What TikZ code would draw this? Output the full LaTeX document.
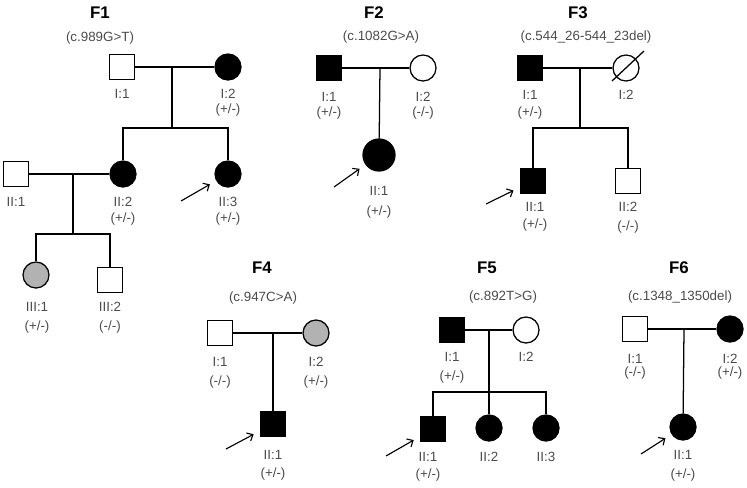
\documentclass[tikz,border=0pt]{standalone}
\usepackage{fontspec}
\setmainfont{Liberation Sans}
\usepackage{tikz}
\usetikzlibrary{arrows.meta}

\definecolor{labelgray}{RGB}{75,75,75}
\definecolor{cargray}{RGB}{178,178,178}

\tikzset{
  male/.style={draw, rectangle, minimum size=0.62cm, inner sep=0pt, fill=white},
  female/.style={draw, circle, minimum size=0.65cm, inner sep=0pt, fill=white},
  aff/.style={fill=black},
  car/.style={fill=cargray},
  famtitle/.style={font=\bfseries\fontsize{12}{14}\selectfont},
  mut/.style={text=labelgray, font=\fontsize{9.5}{11}\selectfont},
  lab/.style={text=labelgray, font=\fontsize{9.5}{11}\selectfont, inner sep=1pt},
  proband/.style={-{Straight Barb[length=3.5pt, width=6.5pt]}, line width=0.8pt, shorten >=0.18cm}
}

\begin{document}
\begin{tikzpicture}[x=0.025cm, y=-0.025cm, line width=0.9pt]
    \useasboundingbox (0,0) rectangle (747,487);

    % Family F1
    \node[famtitle] (f1t) at (100,13) {F1};
    \node[mut] (f1v) at (100,38) {(c.989G>T)};
    \node[male] (f1a) at (122,67) {};
    \node[female, aff] (f1b) at (228,67) {};
    \node[female, aff] (f1c) at (123,174) {};
    \node[female, aff] (f1d) at (228,174) {};
    \node[male] (f1e) at (16,174) {};
    \node[female, car] (f1f) at (36,275) {};
    \node[male] (f1g) at (110,280) {};
    \coordinate (f1m) at (172,67);
    \coordinate (f1s) at (172,128);
    \coordinate (f1n) at (73,174);
    \coordinate (f1u) at (73,234);
    \coordinate (f1arr) at (181,201);
    \draw (f1a) -- (f1b);
    \draw (f1m) -- (f1s);
    \draw (f1c) |- (f1s) -| (f1d);
    \draw (f1e) -- (f1c);
    \draw (f1n) -- (f1u);
    \draw (f1f) |- (f1u) -| (f1g);
    \draw[proband] (f1arr) -- (f1d);
    \node[lab] (f1al) at (122,94) {I:1};
    \node[lab] (f1bl) at (228,94) {I:2};
    \node[lab] (f1bg) at (228,110) {(+/-)};
    \node[lab] (f1el) at (16,202) {II:1};
    \node[lab] (f1cl) at (123,202) {II:2};
    \node[lab] (f1cg) at (123,219) {(+/-)};
    \node[lab] (f1dl) at (228,202) {II:3};
    \node[lab] (f1dg) at (228,219) {(+/-)};
    \node[lab] (f1fl) at (37,307) {III:1};
    \node[lab] (f1fg) at (37,327) {(+/-)};
    \node[lab] (f1gl) at (110,307) {III:2};
    \node[lab] (f1gg) at (110,327) {(-/-)};

    % Family F2
    \node[famtitle] (f2t) at (374,13) {F2};
    \node[mut] (f2v) at (381,37) {(c.1082G>A)};
    \node[male, aff] (f2a) at (329,68) {};
    \node[female] (f2b) at (423,68) {};
    \node[female, aff, minimum size=0.8cm] (f2c) at (379,155) {};
    \coordinate (f2m) at (380,68);
    \coordinate (f2arr) at (334,187);
    \draw (f2a) -- (f2b);
    \draw (f2m) -- (f2c);
    \draw[proband] (f2arr) -- (f2c);
    \node[lab] (f2al) at (329,97) {I:1};
    \node[lab] (f2ag) at (329,113) {(+/-)};
    \node[lab] (f2bl) at (423,97) {I:2};
    \node[lab] (f2bg) at (423,113) {(-/-)};
    \node[lab] (f2cl) at (379,191) {II:1};
    \node[lab] (f2cg) at (379,212) {(+/-)};

    % Family F3
    \node[famtitle] (f3t) at (578,13) {F3};
    \node[mut] (f3v) at (586,37) {(c.544\_26-544\_23del)};
    \node[male, aff] (f3a) at (530,68) {};
    \node[female] (f3b) at (626,68) {};
    \node[male, aff] (f3c) at (533,181) {};
    \node[male] (f3d) at (628,181) {};
    \coordinate (f3m) at (580,68);
    \coordinate (f3s) at (580,128);
    \coordinate (f3arr) at (486,204);
    \draw (f3a) -- (f3b);
    \draw (f3b) ++(-14,13) -- ++(32,-30);
    \draw (f3m) -- (f3s);
    \draw (f3c) |- (f3s) -| (f3d);
    \draw[proband] (f3arr) -- (f3c);
    \node[lab] (f3al) at (530,95) {I:1};
    \node[lab] (f3ag) at (530,113) {(+/-)};
    \node[lab] (f3bl) at (626,95) {I:2};
    \node[lab] (f3cl) at (535,207) {II:1};
    \node[lab] (f3cg) at (535,225) {(+/-)};
    \node[lab] (f3dl) at (628,207) {II:2};
    \node[lab] (f3dg) at (628,227) {(-/-)};

    % Family F4
    \node[famtitle] (f4t) at (262,268) {F4};
    \node[mut] (f4v) at (263,298) {(c.947C>A)};
    \node[male] (f4a) at (220,333) {};
    \node[female, car] (f4b) at (316,333) {};
    \node[male, aff] (f4c) at (273,424) {};
    \coordinate (f4m) at (273,333);
    \coordinate (f4arr) at (226,449);
    \draw (f4a) -- (f4b);
    \draw (f4m) -- (f4c);
    \draw[proband] (f4arr) -- (f4c);
    \node[lab] (f4al) at (220,362) {I:1};
    \node[lab] (f4ag) at (220,382) {(-/-)};
    \node[lab] (f4bl) at (316,362) {I:2};
    \node[lab] (f4bg) at (316,382) {(+/-)};
    \node[lab] (f4cl) at (273,455) {II:1};
    \node[lab] (f4cg) at (273,474) {(+/-)};

    % Family F5
    \node[famtitle] (f5t) at (487,268) {F5};
    \node[mut] (f5v) at (503,297) {(c.892T>G)};
    \node[male, aff] (f5a) at (452,330) {};
    \node[female] (f5b) at (526,330) {};
    \node[male, aff] (f5c) at (433,429) {};
    \node[female, aff] (f5d) at (489,428) {};
    \node[female, aff] (f5e) at (546,428) {};
    \coordinate (f5m) at (489,330);
    \coordinate (f5s) at (489,392);
    \coordinate (f5arr) at (386,456);
    \draw (f5a) -- (f5b);
    \draw (f5m) -- (f5d);
    \draw (f5c) |- (f5s) -| (f5e);
    \draw[proband] (f5arr) -- (f5c);
    \node[lab] (f5al) at (452,357) {I:1};
    \node[lab] (f5ag) at (452,377) {(+/-)};
    \node[lab] (f5bl) at (526,357) {I:2};
    \node[lab] (f5cl) at (428,457) {II:1};
    \node[lab] (f5cg) at (428,475) {(+/-)};
    \node[lab] (f5dl) at (489,457) {II:2};
    \node[lab] (f5el) at (546,457) {II:3};

    % Family F6
    \node[famtitle] (f6t) at (679,268) {F6};
    \node[mut] (f6v) at (680,297) {(c.1348\_1350del)};
    \node[male] (f6a) at (635,329) {};
    \node[female, aff] (f6b) at (730,329) {};
    \node[female, aff] (f6c) at (683,427) {};
    \coordinate (f6m) at (684,329);
    \coordinate (f6arr) at (641,454);
    \draw (f6a) -- (f6b);
    \draw (f6m) -- (f6c);
    \draw[proband] (f6arr) -- (f6c);
    \node[lab] (f6al) at (635,359) {I:1};
    \node[lab] (f6ag) at (635,373) {(-/-)};
    \node[lab] (f6bl) at (730,359) {I:2};
    \node[lab] (f6bg) at (730,373) {(+/-)};
    \node[lab] (f6cl) at (683,455) {II:1};
    \node[lab] (f6cg) at (683,475) {(+/-)};
\end{tikzpicture}
\end{document}
